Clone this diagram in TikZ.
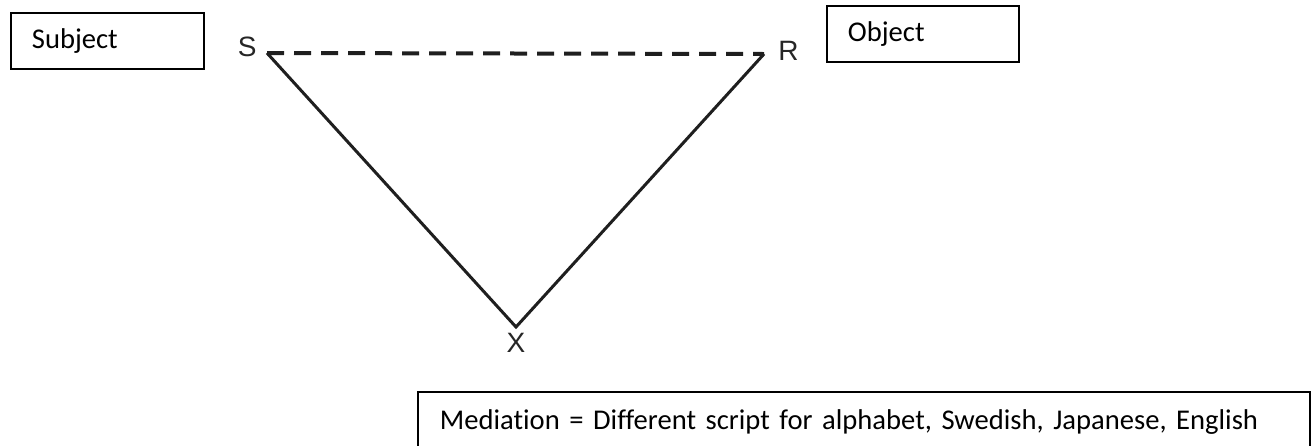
\documentclass[tikz,border=0pt]{standalone}
\usepackage{fontspec}
\setmainfont{Carlito}[Ligatures=NoCommon]
\newfontfamily\cornerfont{Liberation Sans}
\usetikzlibrary{positioning}
\tikzset{
    textbox/.style={draw, line width=0.9pt, anchor=north west, align=left,
        inner xsep=10.5pt, inner ysep=0pt, font=\fontsize{14.3}{17}\selectfont},
    corner/.style={inner sep=0pt, text=black!85,
        font=\cornerfont\fontsize{14}{16}\selectfont},
    side/.style={line width=1.5pt, draw=black!88},
}
\begin{document}
\begin{tikzpicture}[x=0.5pt, y=-0.5pt]
            \clip (0,0) rectangle (1312,445);
            % corners of the triangle
            \coordinate (s) at (267,53);
            \coordinate (r) at (764,54);
            \coordinate (x) at (516,327);
            \node[corner, left=5pt of s, yshift=3pt] (slabel) {S};
            \node[corner, right=7pt of r, yshift=1.5pt] (rlabel) {R};
            \node[corner, below=3pt of x] (xlabel) {X};
            \draw[side] (s) -- (x) -- (r);
            \draw[side, line width=2pt, dash pattern=on 8.5pt off 5pt] (s) -- (r);
            % labels in boxes
            \node[textbox, text width=75.5pt, minimum height=28pt] (subject) at (10,12) {Subject};
            \node[textbox, text width=75pt, minimum height=28pt] (object) at (826,5) {Object};
            \node[textbox, text width=424pt, minimum height=30.5pt, inner xsep=11pt] (mediation) at (417,391)
                {Mediation = Different script for alphabet, Swedish, Japanese, English};
        \end{tikzpicture}
\end{document}
